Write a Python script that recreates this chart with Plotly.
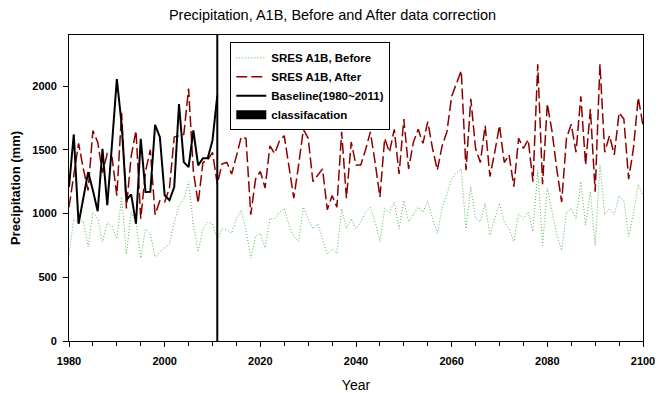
import plotly.graph_objects as go

# ---------------- data ----------------
years = list(range(1980, 2101))
baseline_years = list(range(1980, 2012))

baseline = [1208, 1620, 920, 1130, 1325, 1180, 1018, 1508, 1065, 1550,
            2055, 1700, 1104, 1150, 920, 1586, 1169, 1170, 1695, 1598,
            1143, 1104, 1208, 1859, 1403, 1364, 1651, 1377, 1434, 1434,
            1573, 1924]

after = [1050, 1300, 1550, 1350, 1180, 1650, 1560, 1320, 1470, 1440,
         1140, 1790, 1040, 1450, 1650, 960, 1330, 1500, 990, 1100,
         1090, 1200, 1600, 1610, 1620, 1980, 1330, 1080, 1400, 1420,
         1480, 1230, 1390, 1400, 1310, 1450, 1600, 1590, 990, 1270,
         1330, 1200, 1530, 1470, 1570, 1610, 1350, 1120, 1380, 1660,
         1590, 1250, 1300, 1350, 1030, 1140, 1050, 1640, 1120, 1560,
         1380, 1380, 1500, 1640, 1400, 1130, 1590, 1480, 1660, 1310,
         1740, 1350, 1560, 1660, 1550, 1720, 1510, 1340, 1530, 1640,
         1920, 2020, 2120, 1340, 1900, 1510, 1400, 1690, 1290, 1480,
         1690, 1400, 1460, 1210, 1590, 1510, 1580, 1250, 2170, 1230,
         1860, 1640, 1340, 1090, 1590, 1700, 1480, 1920, 1380, 1820,
         1170, 2170, 1480, 1610, 1460, 1790, 1740, 1270, 1510, 1910,
         1690]

before = [680, 960, 930, 940, 740, 1010, 960, 780, 930, 900,
          800, 1130, 680, 1010, 930, 650, 880, 840, 660, 700,
          730, 760, 930, 1060, 1110, 1250, 910, 700, 880, 930,
          920, 800, 880, 870, 845, 960, 1025, 870, 650, 820,
          845, 730, 960, 960, 1010, 1040, 910, 820, 780, 1050,
          960, 880, 920, 800, 680, 720, 690, 1040, 880, 960,
          880, 935, 1010, 1050, 935, 780, 1040, 1010, 1090, 880,
          1100, 935, 990, 1050, 1010, 1100, 960, 845, 1040, 1150,
          1270, 1320, 1350, 880, 1210, 960, 935, 1080, 830, 960,
          1080, 935, 880, 780, 1000, 960, 1010, 860, 1340, 750,
          1200, 1010, 830, 710, 1010, 1040, 960, 1250, 910, 1170,
          750, 1380, 990, 1040, 990, 1140, 1100, 820, 1000, 1230,
          1140]

classification_year = [2011, 2011]
y_range = [0, 2400]

x_ticks = [1980, 2000, 2020, 2040, 2060, 2080, 2100]
y_ticks = [0, 500, 1000, 1500, 2000]

# ---------------- figure ----------------
fig = go.Figure()

fig.add_trace(go.Scatter(
    x=years, y=before, mode="lines", name="SRES A1B, Before",
    line=dict(color="#4cba4c", width=1, dash="1px,2px")))
fig.add_trace(go.Scatter(
    x=years, y=after, mode="lines", name="SRES A1B, After",
    line=dict(color="#8B0000", width=1.5, dash="11px,4px")))
fig.add_trace(go.Scatter(
    x=baseline_years, y=baseline, mode="lines", name="Baseline(1980~2011)",
    line=dict(color="black", width=2)))
# vertical classification line drawn from data
fig.add_trace(go.Scatter(
    x=classification_year, y=y_range, mode="lines", showlegend=False,
    line=dict(color="black", width=2), hoverinfo="skip"))
# legend entry for classification (thick bar symbol)
fig.add_trace(go.Scatter(
    x=[None], y=[None], mode="lines", name="classifacation",
    line=dict(color="black", width=9)))

font_family = "Liberation Sans, Arial, sans-serif"

fig.update_layout(
    width=665, height=393,
    margin=dict(l=69, r=22, t=35, b=52),
    paper_bgcolor="white", plot_bgcolor="white",
    font=dict(family=font_family, color="black"),
    title=dict(text="Precipitation, A1B, Before and After data correction",
               x=0.5, xanchor="center", y=0.963, yanchor="middle",
               font=dict(size=14.5, color="black")),
    showlegend=True,
    legend=dict(x=0.281, y=0.976, xanchor="left", yanchor="top",
                bordercolor="black", borderwidth=1, bgcolor="white",
                font=dict(size=11.5, weight="bold"),
                tracegroupgap=0, itemwidth=30),
)

fig.update_xaxes(
    range=[1980, 2100], tickmode="array", tickvals=x_ticks,
    ticks="outside", ticklen=5, tickwidth=1, tickcolor="black",
    minor=dict(dtick=5, tick0=1980, ticks="outside", ticklen=4, tickcolor="black"),
    showline=True, linecolor="black", linewidth=1, mirror=True,
    showgrid=False, zeroline=False, automargin=False,
    tickfont=dict(size=11, weight="bold"), ticklabelstandoff=5,
    title=dict(text="Year", font=dict(size=14), standoff=16),
)
fig.update_yaxes(
    range=y_range, tickmode="array", tickvals=y_ticks,
    ticks="outside", ticklen=5, tickwidth=1, tickcolor="black",
    showline=True, linecolor="black", linewidth=1, mirror=True,
    showgrid=False, zeroline=False, automargin=False,
    tickfont=dict(size=11, weight="bold"), ticklabelstandoff=4,
    title=dict(text="Precipitation (mm)", font=dict(size=13, weight="bold"), standoff=8),
)

fig.write_html("out.html")
